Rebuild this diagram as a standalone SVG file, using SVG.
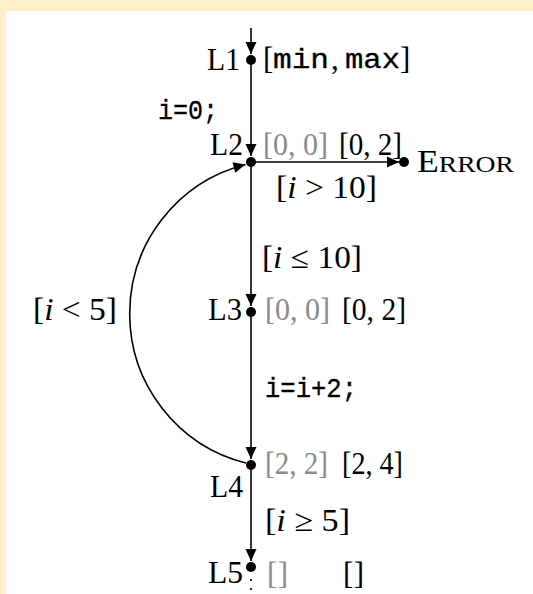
<svg xmlns="http://www.w3.org/2000/svg" width="533" height="594" viewBox="0 0 533 594">
<defs>
<style>
.rm{font-family:"Liberation Serif","Times New Roman",serif;font-size:31px;fill:#000}
.g{fill:#8a8a8a}
.tt{font-family:"Liberation Mono","Courier New",monospace;font-size:27px;fill:#000;stroke:#000;stroke-width:0.3}
.it{font-style:italic}
.e{fill:none;stroke:#000;stroke-width:1.6}
.dot{fill:#000}
</style>
<marker id="ah" markerUnits="userSpaceOnUse" markerWidth="16" markerHeight="14" viewBox="-14 -7 16 14" refX="0" refY="0" orient="auto">
<path d="M0,0 L-12,-5.5 L-12,5.5 Z" fill="#000"/>
</marker>
</defs>
<rect x="0" y="0" width="533" height="594" fill="#FFF0C9"/>
<rect x="6" y="11" width="527" height="583" fill="#FFFFFF"/>

<g id="connectors">
<path class="e" d="M251,28 L251,54" marker-end="url(#ah)"/>
<path class="e" d="M251,60 L251,156" marker-end="url(#ah)"/>
<path class="e" d="M251,162 L399,162" marker-end="url(#ah)"/>
<path class="e" d="M251,162 L251,306" marker-end="url(#ah)"/>
<path class="e" d="M251,312 L251,459" marker-end="url(#ah)"/>
<path class="e" d="M251,465 L251,561" marker-end="url(#ah)"/>
<path class="e" d="M246,463 A154,154 0 0 1 245.5,164.5" marker-end="url(#ah)"/>
<text class="tt" x="158" y="119" textLength="60" lengthAdjust="spacingAndGlyphs">i=0;</text>
<text class="rm" x="276" y="198" textLength="101" lengthAdjust="spacingAndGlyphs">[<tspan class="it">i</tspan> &gt; 10]</text>
<text class="rm" x="262" y="268" textLength="100" lengthAdjust="spacingAndGlyphs">[<tspan class="it">i</tspan> ≤ 10]</text>
<text class="rm" x="33" y="320" textLength="84" lengthAdjust="spacingAndGlyphs">[<tspan class="it">i</tspan> &lt; 5]</text>
<text class="tt" x="265" y="397" textLength="92" lengthAdjust="spacingAndGlyphs">i=i+2;</text>
<text class="rm" x="265" y="531" textLength="85" lengthAdjust="spacingAndGlyphs">[<tspan class="it">i</tspan> ≥ 5]</text>
<circle class="dot" cx="251" cy="580" r="1.1"/>
<circle class="dot" cx="251" cy="589" r="1.1"/>
</g>

<g id="L1">
<circle class="dot" cx="251" cy="60" r="5"/>
<text class="rm" x="207" y="70" textLength="33" lengthAdjust="spacingAndGlyphs">L1</text>
<text class="rm" x="263" y="69">[</text>
<text class="tt" x="273" y="68" textLength="56" lengthAdjust="spacingAndGlyphs">min</text>
<text class="rm" x="331" y="69">,</text>
<text class="tt" x="345" y="68" textLength="55" lengthAdjust="spacingAndGlyphs">max</text>
<text class="rm" x="400" y="69">]</text>
</g>

<g id="L2">
<circle class="dot" cx="251" cy="162" r="5"/>
<text class="rm" x="210" y="155" textLength="33" lengthAdjust="spacingAndGlyphs">L2</text>
<text class="rm g" x="263" y="155" textLength="65" lengthAdjust="spacingAndGlyphs">[0, 0]</text>
<text class="rm" x="339" y="155" textLength="63" lengthAdjust="spacingAndGlyphs">[0, 2]</text>
</g>

<g id="ERROR">
<circle class="dot" cx="404" cy="162" r="5"/>
<text class="rm" x="417" y="172" textLength="97" lengthAdjust="spacingAndGlyphs">E<tspan font-size="24">RROR</tspan></text>
</g>

<g id="L3">
<circle class="dot" cx="251" cy="312" r="5"/>
<text class="rm" x="208" y="320" textLength="34" lengthAdjust="spacingAndGlyphs">L3</text>
<text class="rm g" x="265" y="320" textLength="65" lengthAdjust="spacingAndGlyphs">[0, 0]</text>
<text class="rm" x="342" y="320" textLength="64" lengthAdjust="spacingAndGlyphs">[0, 2]</text>
</g>

<g id="L4">
<circle class="dot" cx="251" cy="465" r="5"/>
<text class="rm" x="210" y="497" textLength="33" lengthAdjust="spacingAndGlyphs">L4</text>
<text class="rm g" x="265" y="474" textLength="63" lengthAdjust="spacingAndGlyphs">[2, 2]</text>
<text class="rm" x="342" y="474" textLength="61" lengthAdjust="spacingAndGlyphs">[2, 4]</text>
</g>

<g id="L5">
<circle class="dot" cx="251" cy="567" r="5"/>
<text class="rm" x="208" y="583" textLength="35" lengthAdjust="spacingAndGlyphs">L5</text>
<text class="rm g" x="267" y="584" textLength="21" lengthAdjust="spacing">[]</text>
<text class="rm" x="343" y="584" textLength="21" lengthAdjust="spacing">[]</text>
</g>
</svg>
